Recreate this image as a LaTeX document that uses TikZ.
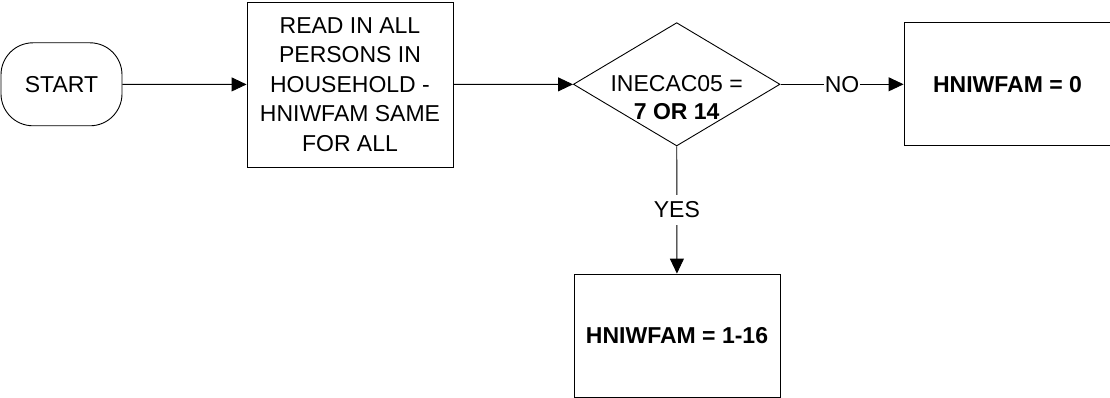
\documentclass[tikz,border=0pt]{standalone}
\usepackage{fontspec}
\setmainfont{Liberation Sans}
\usetikzlibrary{arrows.meta,shapes.geometric}

\tikzset{
    flowbox/.style={draw, line width=0.9pt, minimum width=206pt, inner sep=0pt,
        align=center, font=\fontsize{23pt}{29.6pt}\selectfont},
    flow/.style={-{Triangle[length=15pt,width=14pt]}, line width=0.9pt}
}

\begin{document}
\begin{tikzpicture}[x=1pt, y=-1pt]

    \useasboundingbox (0,0) rectangle (1110,398);

    % Start
    \node[flowbox, rounded corners=32pt, minimum width=121pt, minimum height=83pt]
        (start) at (61.5,84.3) {START};

    % Read in box
    \node[flowbox, minimum height=165pt] (readin) at (350,84.5)
        {READ IN ALL\\PERSONS IN\\HOUSEHOLD -\\HNIWFAM SAME\\FOR ALL};

    % Decision
    \node[draw, diamond, line width=0.9pt, inner sep=0pt,
        minimum width=206.7pt, minimum height=123.3pt] (decide) at (676.7,84.3) {};
    \node[align=center, inner sep=0pt, font=\fontsize{23pt}{28.4pt}\selectfont]
        (decidetext) at (676.7,97.5) {INECAC05 =\\\textbf{7 OR 14}};

    % Results
    \node[flowbox, minimum width=207pt, minimum height=123.3pt] (nobox) at (1007.5,84.3)
        {\textbf{HNIWFAM = 0}};
    \node[flowbox, minimum height=123.3pt] (yesbox) at (677,335.7)
        {\textbf{HNIWFAM = 1-16}};

    % Connectors
    \draw[flow] (start) -- (readin);
    \draw[flow] (readin) -- (decide);
    \draw[flow] (decide) -- node[fill=white, inner xsep=1pt, inner ysep=2pt,
        font=\fontsize{23pt}{28pt}\selectfont] (nolabel) {NO} (nobox);
    \draw[flow] (decide) -- node[fill=white, inner xsep=2pt, inner ysep=6.5pt,
        font=\fontsize{23pt}{28pt}\selectfont] (yeslabel) {YES} (yesbox);

\end{tikzpicture}
\end{document}
